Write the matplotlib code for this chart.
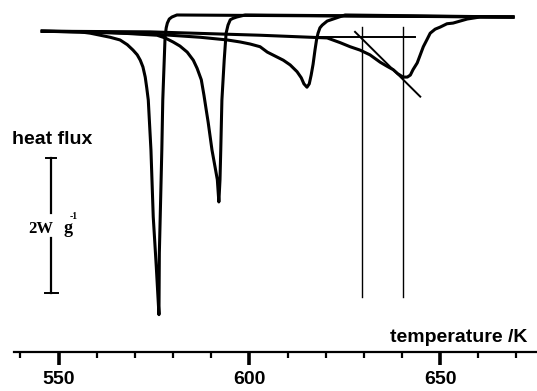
import numpy as np
import matplotlib
matplotlib.use("Agg")
import matplotlib.pyplot as plt

# DSC traces: temperature (K) and heat flux (W/g, relative)
temp_1 = [545.7, 555.6, 558.3, 560.9, 563.5, 566.1, 568.0, 569.5, 570.6, 571.4,
          572.1, 572.7, 573.1, 573.5, 574.2, 574.8, 575.6, 576.3, 576.4, 577.05,
          577.3, 577.9, 578.2, 578.5, 579.0, 579.7, 581.0, 669.1]
flux_1 = [-0.24, -0.25, -0.27, -0.30, -0.33, -0.37, -0.44, -0.52, -0.59, -0.67,
          -0.77, -0.92, -1.08, -1.26, -2.00, -2.99, -3.73, -4.44, -3.53, -2.00,
          -1.26, -0.33, -0.19, -0.12, -0.06, -0.03, 0.0, -0.03]

temp_2 = [545.7, 560.9, 575.8, 577.9, 580.0, 581.8, 583.7, 585.3, 586.3, 587.4,
          588.1, 588.7, 589.2, 590.2, 591.0, 591.6, 592.0, 592.3, 592.5, 592.8,
          593.4, 593.9, 594.4, 595.0, 595.7, 596.7, 598.9, 669.1]
flux_2 = [-0.24, -0.25, -0.30, -0.34, -0.40, -0.46, -0.55, -0.67, -0.79, -0.96,
          -1.19, -1.41, -1.59, -2.00, -2.25, -2.44, -2.77, -2.44, -2.00, -1.26,
          -0.67, -0.27, -0.15, -0.07, -0.05, -0.03, 0.0, -0.03]

temp_3 = [545.7, 574.0, 587.1, 594.2, 597.6, 600.2, 602.8, 604.7, 606.8, 608.9,
          610.7, 612.5, 613.6, 614.3, 615.1, 615.7, 616.2, 616.7, 617.2, 617.6,
          618.0, 618.5, 619.1, 620.4, 623.0, 625.1, 669.1]
flux_3 = [-0.24, -0.28, -0.33, -0.37, -0.40, -0.43, -0.47, -0.55, -0.61, -0.67,
          -0.74, -0.84, -0.93, -1.02, -1.07, -1.02, -0.89, -0.73, -0.52, -0.37,
          -0.27, -0.19, -0.15, -0.09, -0.04, 0.0, -0.03]

temp_4 = [545.7, 574.0, 602.8, 620.4, 623.8, 626.4, 629.0, 631.6, 634.3, 636.1,
          637.7, 638.9, 640.3, 641.4, 642.2, 642.9, 644.0, 644.8, 645.6, 646.6,
          647.4, 648.7, 650.0, 651.8, 653.4, 657.1, 660.5, 669.1]
flux_4 = [-0.24, -0.25, -0.30, -0.34, -0.41, -0.47, -0.52, -0.59, -0.70, -0.76,
          -0.81, -0.87, -0.92, -0.92, -0.89, -0.81, -0.71, -0.59, -0.47, -0.36,
          -0.27, -0.21, -0.18, -0.13, -0.12, -0.06, -0.03, -0.03]

# construction lines for onset / peak of the last trace
base_t = [613.3, 643.4]
base_q = [-0.33, -0.33]
tang_t = [627.7, 644.8]
tang_q = [-0.25, -1.21]
marker_t = [629.6, 640.3]
marker_q = [-0.18, -4.18]

major_ticks = [550, 600, 650]
minor_ticks = [540, 560, 570, 580, 590, 610, 620, 630, 640, 660, 670]

W, H = 537, 391
fig = plt.figure(figsize=(W / 100, H / 100), dpi=100)
ax = fig.add_axes([14 / W, (H - 352) / H, (W - 14) / W, 352 / H])
ax.set_xlim(538.3, 675.4)
ax.set_ylim(-4.993, 0.222)

for t, q in [(temp_1, flux_1), (temp_2, flux_2), (temp_3, flux_3), (temp_4, flux_4)]:
    ax.plot(t, q, color="black", lw=2.2, solid_joinstyle="round")

ax.plot(base_t, base_q, color="black", lw=1.4)
ax.plot(tang_t, tang_q, color="black", lw=1.4)
for t in marker_t:
    ax.plot([t, t], marker_q, color="black", lw=1.0)

# 2 W/g scale bar
bar_t = 548.0
ax.plot([bar_t, bar_t], [-2.12, -2.93], color="black", lw=1.6)
ax.plot([bar_t, bar_t], [-3.30, -4.12], color="black", lw=1.6)
ax.plot([546.7, 549.3], [-2.12, -2.12], color="black", lw=1.4)
ax.plot([546.5, 549.9], [-4.12, -4.12], color="black", lw=1.4)

for s in ["left", "right", "top"]:
    ax.spines[s].set_visible(False)
ax.spines["bottom"].set_linewidth(1.6)
ax.set_yticks([])
ax.set_xticks(major_ticks)
ax.set_xticks(minor_ticks, minor=True)
ax.tick_params(axis="x", which="major", direction="out", length=9, width=2.6, pad=5)
ax.tick_params(axis="x", which="minor", direction="out", length=4, width=1.6)
for lab in ax.get_xticklabels():
    lab.set_fontfamily("Liberation Sans")
    lab.set_fontweight("bold")
    lab.set_fontsize(14)

fig.text(12 / W, 1 - 139 / H, "heat flux", family="Liberation Sans", weight="bold",
         fontsize=14, ha="left", va="center")
fig.text(527 / W, 1 - 342 / H, "temperature /K", family="Liberation Sans", weight="bold",
         fontsize=14, ha="right", va="baseline")
fig.text(28 / W, 1 - 233 / H, "2W", family="Liberation Serif", weight="bold",
         fontsize=12, ha="left", va="baseline")
fig.text(64 / W, 1 - 233 / H, "g", family="Liberation Serif", weight="bold",
         fontsize=13, ha="left", va="baseline")
fig.text(70 / W, 1 - 219 / H, "-1", family="Liberation Serif", weight="bold",
         fontsize=7, ha="left", va="baseline")

fig.savefig("out.png", dpi=100)
